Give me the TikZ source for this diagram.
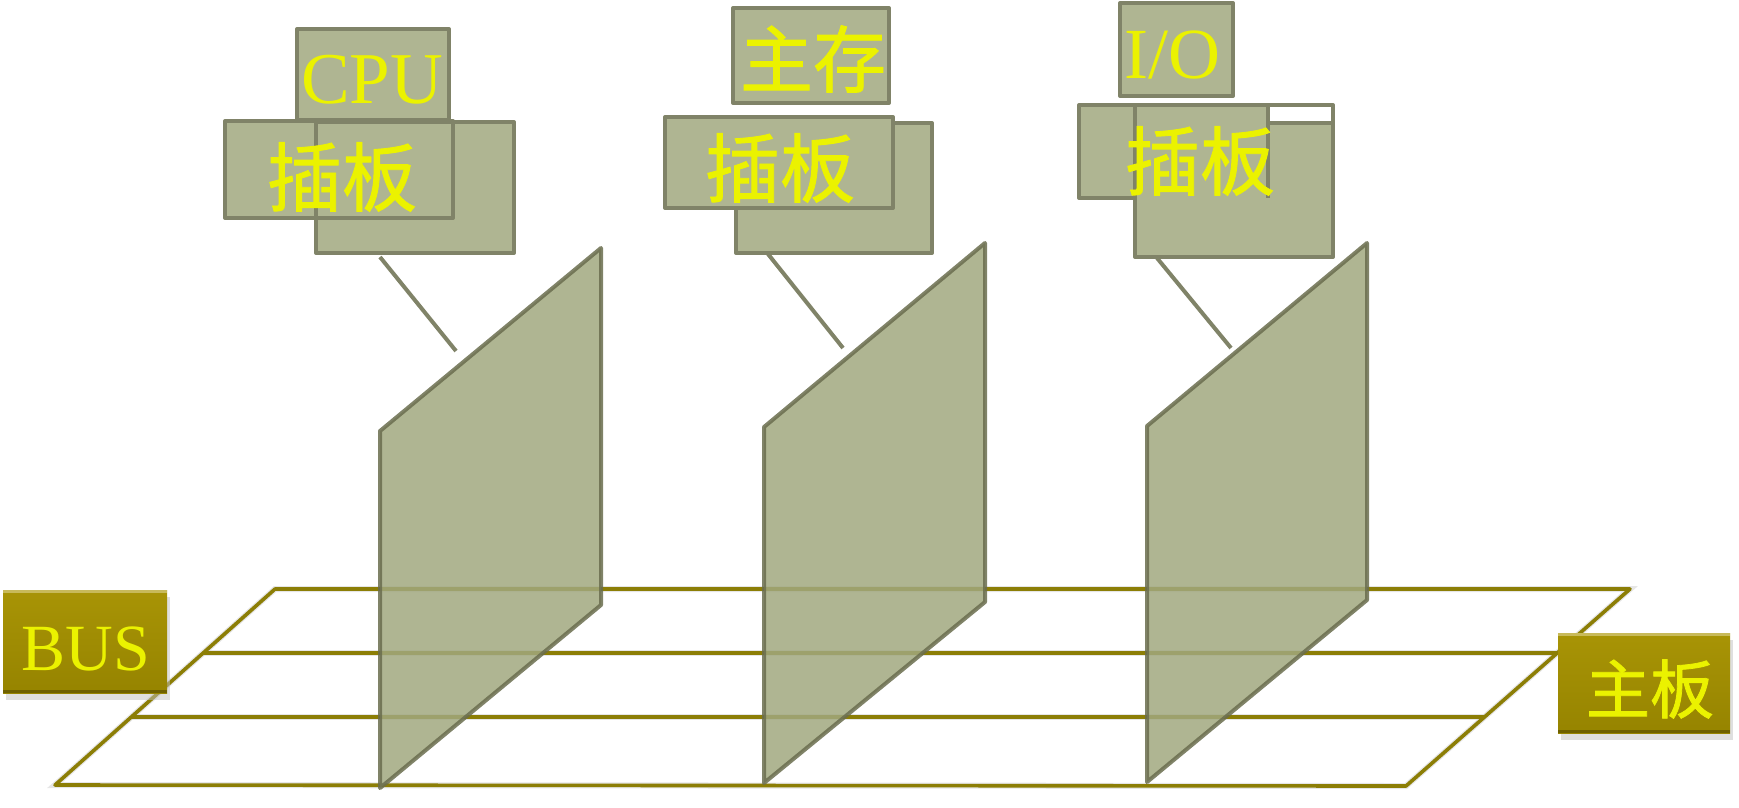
\documentclass[tikz,border=0pt]{standalone}
\usepackage{fontspec}
\newfontfamily\serifw{Liberation Serif}
\newfontfamily\cjk[FakeBold=1.2]{Noto Sans CJK SC}
\definecolor{boxfill}{RGB}{175,181,146}
\definecolor{boxline}{RGB}{128,131,104}
\definecolor{panfill}{RGB}{161,168,127}
\definecolor{panline}{RGB}{106,109,78}
\definecolor{boardline}{RGB}{140,126,6}
\definecolor{txt}{RGB}{235,242,0}
\definecolor{goldtop}{RGB}{168,148,6}
\definecolor{goldbot}{RGB}{150,132,0}
\definecolor{goldlight}{RGB}{200,186,90}
\definecolor{golddark}{RGB}{110,96,0}
\tikzset{
  boxf/.style={fill=boxfill},
  boxo/.style={draw=boxline, line width=4pt, line join=round},
  panelstyle/.style={fill=panfill, fill opacity=0.85, draw=panline, draw opacity=0.85, line width=4pt, line join=round},
  conn/.style={draw=boxline, line width=4pt},
  bline/.style={draw=boardline, line width=3.6pt, line join=round},
  bshadow/.style={draw=black!14, line width=6pt, opacity=0.7},
  lbl/.style={inner sep=0pt, text=txt},
  goldbox/.style={shading=axis, top color=goldtop, bottom color=goldbot, inner sep=0pt}
}
\begin{document}
\begin{tikzpicture}[x=1pt,y=-1pt]
\useasboundingbox (0,0) rectangle (1739,807);
% ---------- main board ----------
\coordinate (bl) at (55,785);
\coordinate (tl) at (275,589);
\coordinate (tr) at (1630,589);
\coordinate (br) at (1406,786);
\coordinate (m1l) at (203,653);
\coordinate (m1r) at (1557,653);
\coordinate (m2l) at (132,717);
\coordinate (m2r) at (1484,717);
\begin{scope}[shift={(3,6)}]
\draw[bshadow] (bl) -- (tl) -- (tr) -- (br) -- cycle;
\draw[bshadow] (m1l) -- (m1r);
\draw[bshadow] (m2l) -- (m2r);
\end{scope}
\draw[bline] (bl) -- (tl) -- (tr) -- (br) -- cycle;
\draw[bline] (m1l) -- (m1r);
\draw[bline] (m2l) -- (m2r);
% ---------- panels ----------
\draw[panelstyle] (380,431) coordinate (p1a) -- (601,248) coordinate (p1b) -- (601,605) coordinate (p1c) -- (380,788) coordinate (p1d) -- cycle;
\draw[panelstyle] (764,427) coordinate (p2a) -- (985,243) coordinate (p2b) -- (985,602) coordinate (p2c) -- (764,783) coordinate (p2d) -- cycle;
\draw[panelstyle] (1147,426) coordinate (p3a) -- (1367,243) coordinate (p3b) -- (1367,600) coordinate (p3c) -- (1147,782) coordinate (p3d) -- cycle;
% ---------- CPU group ----------
\fill[boxf] (297,29) rectangle (449,120);
\fill[boxf] (225,121) rectangle (453,218);
\fill[boxf] (316,122) rectangle (514,253);
\draw[boxo] (297,29) rectangle (449,120);
\draw[boxo] (225,121) rectangle (453,218);
\draw[boxo] (316,122) rectangle (514,253);
\node[lbl, font=\serifw\fontsize{73}{73}\selectfont] (cpu) at (372,80) {CPU};
\node[lbl, font=\cjk\fontsize{75}{75}\selectfont] (cb1) at (342,177) {插板};
% ---------- memory group ----------
\fill[boxf] (733,8) rectangle (889,103);
\draw[boxo] (733,8) rectangle (889,103);
\fill[boxf] (736,123) rectangle (932,253);
\draw[boxo] (736,123) rectangle (932,253);
\fill[boxf] (665,117) rectangle (893,208);
\draw[boxo] (665,117) rectangle (893,208);
\node[lbl, font=\cjk\fontsize{73}{73}\selectfont] (mem) at (813,59) {主存};
\node[lbl, font=\cjk\fontsize{75}{75}\selectfont] (cb2) at (780,168) {插板};
% ---------- I/O group ----------
\fill[boxf] (1120,3) rectangle (1233,96);
\draw[boxo] (1120,3) rectangle (1233,96);
\fill[boxf] (1079,105) rectangle (1268,198);
\fill[boxf] (1135,105) rectangle (1333,257);
\fill[white] (1268,105) rectangle (1333,123);
\draw[boxo] (1135,105) rectangle (1333,257);
\draw[boxo] (1135,198) -- (1079,198) -- (1079,105) -- (1333,105);
\draw[boxo] (1268,105) -- (1268,198);
\draw[boxo] (1268,123) -- (1333,123);
\node[lbl, font=\serifw\fontsize{72}{72}\selectfont] (io) at (1172,55) {I/O};
\node[lbl, font=\cjk\fontsize{75}{75}\selectfont] (cb3) at (1200,161) {插板};
% ---------- connectors ----------
\coordinate (c1a) at (380,257); \coordinate (c1b) at (456,351);
\coordinate (c2a) at (768,254); \coordinate (c2b) at (843,348);
\coordinate (c3a) at (1157,258); \coordinate (c3b) at (1231,348);
\draw[conn] (c1a) -- (c1b);
\draw[conn] (c2a) -- (c2b);
\draw[conn] (c3a) -- (c3b);
% ---------- BUS label box ----------
\fill[black!25, opacity=0.5] (6,597) rectangle (170,700);
\shade[goldbox] (3,590) rectangle (167,693);
\draw[goldlight, line width=3pt] (3,591.5) -- (167,591.5);
\draw[golddark, line width=3pt] (3,691.5) -- (167,691.5);
\node[lbl, font=\serifw\fontsize{66}{66}\selectfont] (bus) at (86,649) {BUS};
% ---------- mainboard label box ----------
\fill[black!25, opacity=0.5] (1561,640) rectangle (1733,740);
\shade[goldbox] (1558,633) rectangle (1730,733);
\draw[goldlight, line width=3pt] (1558,634.5) -- (1730,634.5);
\draw[golddark, line width=3pt] (1558,731.5) -- (1730,731.5);
\node[lbl, font=\cjk\fontsize{64}{64}\selectfont] (mb) at (1650,689) {主板};
\end{tikzpicture}
\end{document}
